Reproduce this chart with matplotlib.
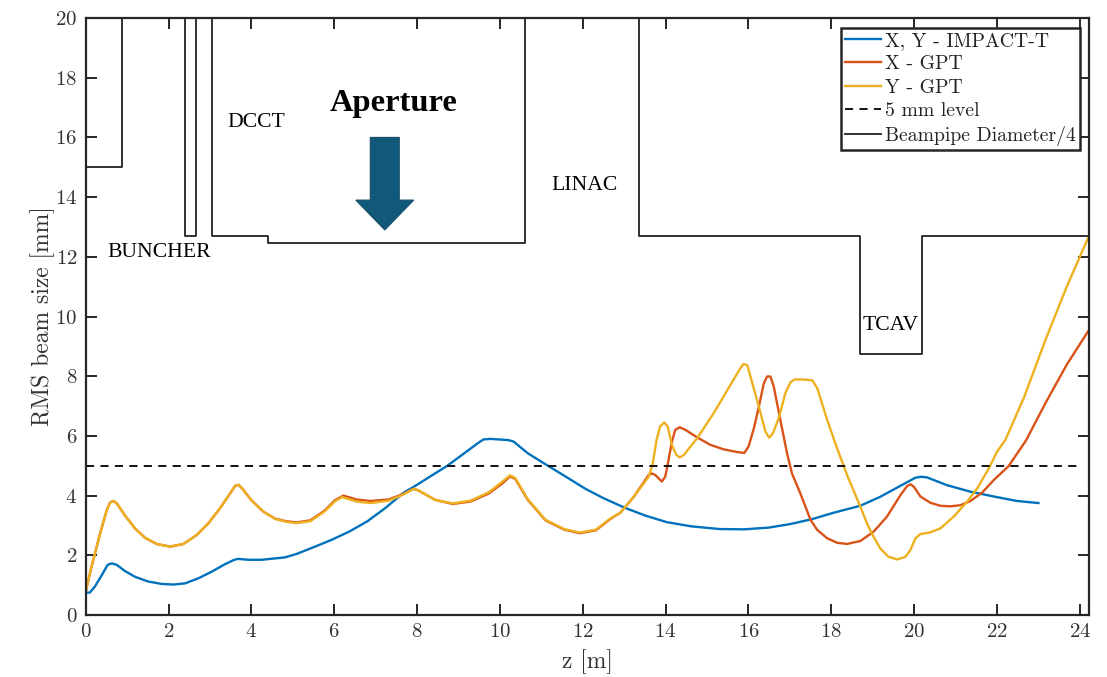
import matplotlib
matplotlib.use('Agg')
import matplotlib.pyplot as plt
from matplotlib.patches import FancyArrow

plt.rcParams['font.family'] = ['cmr10', 'DejaVu Serif']
plt.rcParams['axes.formatter.use_mathtext'] = True

# ------ values ------
z_blue = [0, 0.1, 0.22, 0.39, 0.53, 0.63, 0.75, 0.95, 1.19, 1.51, 1.84, 2.12, 2.4, 2.72, 3.04, 3.36, 3.57, 3.67,
          3.93, 4.25, 4.53, 4.81, 5.08, 5.5, 5.94, 6.37, 6.8, 7.23, 7.66, 7.96, 8.35, 8.73, 9.12, 9.47, 9.6,
          9.77, 10.2, 10.33, 10.67, 11.1, 11.63, 12.06, 12.49, 13.0, 13.51, 14.03, 14.62, 15.3, 15.9,
          16.5, 17.02, 17.53, 18.04, 18.7, 19.18, 19.67, 20.03, 20.17, 20.31, 20.79, 21.36, 21.92,
          22.48, 23.0]
s_blue = [0.75, 0.75, 0.95, 1.34, 1.68, 1.73, 1.68, 1.47, 1.28, 1.12, 1.04, 1.02, 1.06, 1.23, 1.45, 1.7, 1.84, 1.88,
          1.85, 1.85, 1.89, 1.93, 2.04, 2.27, 2.52, 2.8, 3.14, 3.58, 4.08, 4.33, 4.67, 5.0, 5.4, 5.76, 5.88,
          5.9, 5.86, 5.81, 5.42, 5.05, 4.6, 4.23, 3.92, 3.6, 3.33, 3.11, 2.97, 2.88, 2.87,
          2.93, 3.05, 3.21, 3.42, 3.66, 3.96, 4.33, 4.6, 4.63, 4.61, 4.35, 4.13, 3.97,
          3.82, 3.75]

z_red = [0, 0.14, 0.35, 0.51, 0.59, 0.67, 0.75, 0.95, 1.19, 1.43, 1.71, 2.04, 2.36, 2.68, 2.96, 3.24, 3.49, 3.61,
         3.69, 3.77, 4.01, 4.29, 4.57, 4.81, 5.08, 5.42, 5.77, 6.02, 6.22, 6.54, 6.88, 7.31, 7.66, 7.92, 8.05,
         8.43, 8.86, 9.29, 9.73, 10.07, 10.24, 10.37, 10.67, 11.1, 11.55, 11.93, 12.32, 12.66, 12.91, 13.23, 13.59,
         13.67, 13.75, 13.91, 13.99, 14.07, 14.15, 14.23, 14.34, 14.48, 14.76, 15.08, 15.4, 15.72, 15.9, 16.0, 16.13,
         16.25, 16.37, 16.45, 16.53, 16.61, 16.77, 16.93, 17.05, 17.25, 17.5, 17.66, 17.9, 18.14, 18.38, 18.7,
         19.02, 19.34, 19.67, 19.83, 19.91, 19.99, 20.15, 20.39, 20.63, 20.87, 21.12, 21.36, 21.64, 21.92, 22.28,
         22.7, 23.17, 23.68, 24.22]
s_red = [0.78, 1.62, 2.74, 3.52, 3.77, 3.82, 3.74, 3.33, 2.9, 2.59, 2.38, 2.29, 2.38, 2.68, 3.07, 3.57, 4.08, 4.33,
         4.36, 4.25, 3.83, 3.46, 3.23, 3.15, 3.1, 3.17, 3.5, 3.85, 4.0, 3.87, 3.82, 3.87, 4.05, 4.23, 4.16,
         3.86, 3.72, 3.8, 4.07, 4.42, 4.64, 4.56, 3.86, 3.17, 2.86, 2.74, 2.84, 3.21, 3.43, 3.96, 4.69,
         4.74, 4.69, 4.47, 4.63, 5.19, 5.8, 6.2, 6.29, 6.2, 5.95, 5.7, 5.55, 5.46, 5.43, 5.64, 6.25,
         6.98, 7.76, 7.99, 7.99, 7.65, 6.53, 5.42, 4.74, 4.08, 3.18, 2.85, 2.57, 2.42, 2.38, 2.48,
         2.79, 3.29, 4.02, 4.32, 4.38, 4.3, 3.97, 3.76, 3.66, 3.64, 3.68, 3.82, 4.1, 4.52, 4.99,
         5.85, 7.1, 8.38, 9.55]

z_yellow = [0, 0.14, 0.35, 0.51, 0.59, 0.67, 0.75, 0.95, 1.19, 1.43, 1.71, 2.04, 2.36, 2.68, 2.96, 3.24, 3.49, 3.61,
            3.69, 3.77, 4.01, 4.29, 4.57, 4.81, 5.08, 5.42, 5.77, 6.02, 6.19, 6.54, 6.88, 7.31, 7.66, 7.92, 8.05,
            8.43, 8.86, 9.29, 9.73, 10.07, 10.24, 10.37, 10.67, 11.1, 11.55, 11.93, 12.32, 12.66, 12.91, 13.23, 13.59,
            13.69, 13.78, 13.87, 13.97, 14.05, 14.15, 14.26, 14.34, 14.44, 14.76, 15.16, 15.56, 15.8, 15.88, 15.97,
            16.06, 16.25, 16.41, 16.5, 16.59, 16.73, 16.89, 17.01, 17.11, 17.33, 17.54, 17.66, 17.9, 18.14, 18.38,
            18.7, 18.86, 19.02, 19.18, 19.38, 19.59, 19.79, 19.91, 20.03, 20.15, 20.39, 20.63, 20.95, 21.28, 21.52,
            21.8, 22.0, 22.2, 22.66, 23.17, 23.68, 24.22]
s_yellow = [0.78, 1.62, 2.74, 3.52, 3.77, 3.82, 3.74, 3.33, 2.9, 2.59, 2.38, 2.29, 2.38, 2.68, 3.07, 3.57, 4.08, 4.33,
            4.36, 4.25, 3.83, 3.46, 3.22, 3.13, 3.08, 3.14, 3.47, 3.81, 3.95, 3.8, 3.75, 3.83, 4.03, 4.23, 4.16,
            3.86, 3.74, 3.83, 4.11, 4.48, 4.68, 4.59, 3.88, 3.19, 2.88, 2.76, 2.86, 3.23, 3.43, 3.96, 4.63,
            5.08, 5.86, 6.33, 6.45, 6.31, 5.7, 5.36, 5.28, 5.36, 5.92, 6.76, 7.7, 8.26, 8.41, 8.37,
            7.93, 6.98, 6.14, 5.94, 6.09, 6.59, 7.43, 7.79, 7.89, 7.89, 7.86, 7.6, 6.53, 5.58, 4.69,
            3.63, 3.07, 2.62, 2.23, 1.95, 1.86, 1.95, 2.18, 2.57, 2.71, 2.77, 2.9, 3.29, 3.8, 4.24,
            4.91, 5.47, 5.86, 7.32, 9.22, 10.99, 12.7]

z_pipe = [0, 0.88, 0.88, 2.4, 2.4, 2.66, 2.66, 3.05, 3.05, 4.4, 4.4, 10.6, 10.6, 13.36, 13.36,
          18.7, 18.7, 20.2, 20.2, 24.22]
s_pipe = [15, 15, 20, 20, 12.7, 12.7, 20, 20, 12.7, 12.7, 12.45, 12.45, 20, 20, 12.7,
          12.7, 8.75, 8.75, 12.7, 12.7]

z_level = [0, 24.05]
s_level = [5, 5]

x_ticks = list(range(0, 25, 2))
y_ticks = list(range(0, 21, 2))

labels = ['BUNCHER', 'DCCT', 'LINAC', 'TCAV']
label_z = [0.53, 3.42, 11.25, 18.76]
label_s = [12.15, 16.5, 14.4, 9.7]

# ------ figure ------
fig = plt.figure(figsize=(11.07, 6.77), dpi=100)
ax = fig.add_axes([85.7 / 1107, 1 - 615 / 677, (1089 - 85.7) / 1107, (615 - 18) / 677])

ax.plot(z_blue, s_blue, color='#0072BD', lw=1.7, label='X, Y - IMPACT-T')
ax.plot(z_red, s_red, color='#D95319', lw=1.7, label='X - GPT')
ax.plot(z_yellow, s_yellow, color='#EDB120', lw=1.7, label='Y - GPT')
ax.plot(z_level, s_level, color='k', lw=1.3, ls=(0, (4.5, 3.5)), label='5 mm level')
ax.plot(z_pipe, s_pipe, color='#222222', lw=1.3, label='Beampipe Diameter/4')

ax.set_xlim(0, 24.22)
ax.set_ylim(0, 20)
ax.set_xticks(x_ticks)
ax.set_yticks(y_ticks)
ax.tick_params(direction='in', length=8, width=1.4, top=True, right=True,
               labelsize=15, color='#262626', labelcolor='#333333', pad=6)
for sp in ax.spines.values():
    sp.set_linewidth(1.6)
    sp.set_color('#262626')
ax.set_xlabel('z [m]', fontsize=17, color='#333333', labelpad=6)
ax.set_ylabel('RMS beam size [mm]', fontsize=17, color='#333333', labelpad=0)

for name, zz, ss in zip(labels, label_z, label_s):
    ax.text(zz, ss, name, family='Liberation Serif', fontsize=15.6, color='k', va='center')
ax.text(7.43, 17.15, 'Aperture', family='Liberation Serif', fontsize=23.4, fontweight='bold',
        color='k', ha='center', va='center')
ax.add_patch(FancyArrow(7.22, 16, 0, -3.1, width=0.7, head_width=1.4, head_length=1.0,
                        length_includes_head=True, facecolor='#10597A', edgecolor='#1B4F68', lw=0.8))

leg = ax.legend(loc='upper left', bbox_to_anchor=((840.6 - 85.7) / 1003.3, (615 - 28) / 597),
                fontsize=14.2, fancybox=False, framealpha=1, edgecolor='#262626',
                handlelength=1.85, handletextpad=0.22, labelspacing=0.28, borderpad=0.2,
                borderaxespad=0, labelcolor='#222222')
leg.get_frame().set_linewidth(1.8)

plt.savefig('out.png', dpi=100)
